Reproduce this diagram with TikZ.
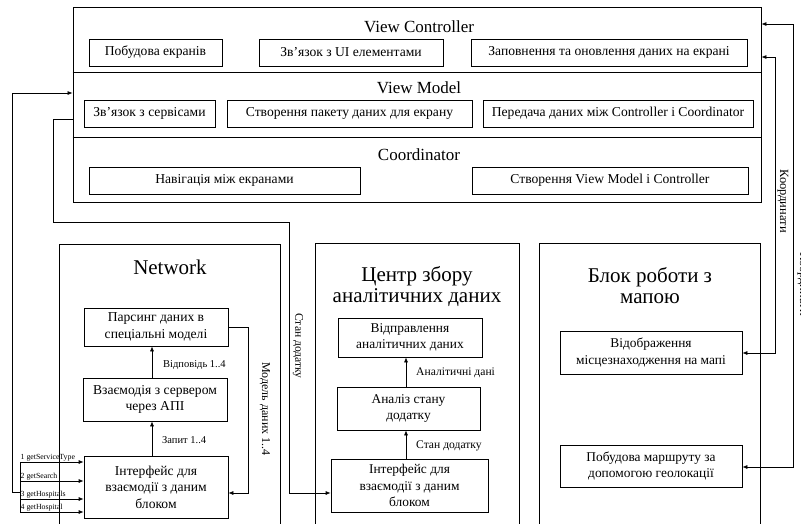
\documentclass[tikz,border=0pt]{standalone}
\usepackage{fontspec}
\setmainfont{Liberation Serif}
\usetikzlibrary{arrows.meta}
\begin{document}
\begin{tikzpicture}[x=1pt,y=-1pt,
  box/.style={draw, line width=0.7pt, inner sep=0pt, align=center, font=\fontsize{13.6}{16.5}\selectfont},
  sbox/.style={draw, line width=0.7pt, inner sep=0pt, align=center, font=\fontsize{13.4}{16.5}\selectfont},
  frame/.style={draw, line width=0.8pt, inner sep=0pt},
  ttl/.style={inner sep=0pt, font=\fontsize{17}{20}\selectfont},
  bigttl/.style={inner sep=0pt, align=center, font=\fontsize{21}{21}\selectfont},
  lbl/.style={inner sep=0pt, font=\fontsize{10.5}{12}\selectfont},
  albl/.style={inner sep=0pt, font=\fontsize{11.6}{13}\selectfont},
  tinylbl/.style={inner sep=0.5pt, anchor=south west, font=\fontsize{7.8}{9}\selectfont},
  conn/.style={line width=0.7pt},
  arr/.style={-{Latex[length=5pt,width=4pt]}, line width=0.7pt},
  dbl/.style={{Latex[length=5pt,width=4pt]}-{Latex[length=5pt,width=4pt]}, line width=0.7pt}]
\useasboundingbox (0,0) rectangle (801,523);

% ---- main frame ----
\node[frame, minimum width=688pt, minimum height=195pt] (main) at (417,104.5) {};
\coordinate (d1) at (0,72);
\coordinate (d2) at (0,137);
\draw[conn] (main.west |- d1) -- (main.east |- d1);
\draw[conn] (main.west |- d2) -- (main.east |- d2);

\node[ttl] (tvc) at (419,27) {View Controller};
\node[ttl] (tvm) at (419,88) {View Model};
\node[ttl] (tco) at (419,155) {Coordinator};

\node[box, minimum width=133pt, minimum height=27pt] (v1) at (155.5,52.5) {Побудова екранів};
\node[box, minimum width=184pt, minimum height=27pt] (v2) at (351,52.5) {Зв’язок з UI елементами};
\node[box, minimum width=276pt, minimum height=27pt] (v3) at (609,52.5) {Заповнення та оновлення даних на екрані};

\node[box, minimum width=131pt, minimum height=27pt] (m1) at (149.5,113.5) {Зв’язок з сервісами};
\node[box, minimum width=245pt, minimum height=27pt] (m2) at (349.5,113.5) {Створення пакету даних для екрану};
\node[box, minimum width=270pt, minimum height=27pt] (m3) at (618,113.5) {Передача даних між Controller і Coordinator};

\node[box, minimum width=271pt, minimum height=27pt] (c1) at (224.5,180.5) {Навігація між екранами};
\node[box, minimum width=276pt, minimum height=27pt] (c2) at (610,180.5) {Створення View Model і Controller};

% ---- Network ----
\node[frame, minimum width=221pt, minimum height=296pt] (net) at (169.5,392) {};
\node[bigttl] (tnet) at (170,267) {Network};
\node[box, minimum width=144pt, minimum height=38pt] (n1) at (156,327) {Парсинг даних в\\спеціальні моделі};
\node[box, minimum width=144pt, minimum height=43pt] (n2) at (155,399.5) {Взаємодія з сервером\\через АПІ};
\node[box, minimum width=144pt, minimum height=62pt] (n3) at (156,487) {Інтерфейс для\\взаємодії з даним\\блоком};
\draw[arr] ([xshift=-4pt]n3.north) -- ([xshift=-3pt]n2.south);
\draw[arr] ([xshift=-3pt]n2.north) -- ([xshift=-4pt]n1.south);
\node[lbl, anchor=west] (lq) at (162,440) {Запит 1..4};
\node[lbl, anchor=west] (lr) at (163,365) {Відповідь 1..4};
\coordinate (mx) at (248,0);
\coordinate (my) at (0,493);
\draw[arr] (n1.east) -- (n1.east -| mx) -- (mx |- my) -- (n3.east |- my);
\node[albl, rotate=-90, font=\fontsize{12}{13}\selectfont] (lmod) at (265,409) {Модель даних 1..4};

% get* inputs
\coordinate (g1) at (20,462);
\coordinate (g2) at (20,481);
\coordinate (g3) at (20,499);
\coordinate (g4) at (20,512);
\draw[conn] (g1) -- (g4);
\draw[arr] (g1) -- (g1 -| n3.west);
\draw[arr] (g2) -- (g2 -| n3.west);
\draw[arr] (g3) -- (g3 -| n3.west);
\draw[arr] (g4) -- (g4 -| n3.west);
\node[tinylbl] (t1) at (g1) {1 getServiceType};
\node[tinylbl] (t2) at (g2) {2 getSearch};
\node[tinylbl] (t3) at (g3) {3 getHospitals};
\node[tinylbl] (t4) at (g4) {4 getHospital};

% left connectors to main
\coordinate (j1) at (20,492);
\coordinate (k1) at (12,492);
\coordinate (k2) at (12,93);
\draw[arr] (j1) -- (k1) -- (k2) -- (main.west |- k2);

% ---- Analytics ----
\node[frame, minimum width=204pt, minimum height=296pt] (an) at (417,391) {};
\node[bigttl] (tan) at (417,287) {Центр збору\\аналітичних даних};
\node[sbox, minimum width=144pt, minimum height=39pt] (a1) at (410,337.5) {Відправлення\\аналітичних даних};
\node[sbox, minimum width=143pt, minimum height=43pt] (a2) at (408.5,408.5) {Аналіз стану\\додатку};
\node[sbox, minimum width=157pt, minimum height=53pt] (a3) at (409.5,485.5) {Інтерфейс для\\взаємодії з даним\\блоком};
\coordinate (ax) at (406,0);
\draw[arr] (a3.north -| ax) -- (a2.south -| ax);
\draw[arr] (a2.north -| ax) -- (a1.south -| ax);
\node[albl, anchor=west] (la1) at (416,373) {Аналітичні дані};
\node[albl, anchor=west] (la2) at (416,446) {Стан додатку};

% connector from main (View Model) to analytics interface
\coordinate (s0) at (0,119);
\coordinate (s1) at (53,119);
\coordinate (s2) at (53,222);
\coordinate (s3) at (289,222);
\coordinate (s4) at (289,493);
\draw[arr] (main.west |- s0) -- (s1) -- (s2) -- (s3) -- (s4) -- (a3.west |- s4);
\node[albl, rotate=-90] (lst) at (298,346) {Стан додатку};

% ---- Map ----
\node[frame, minimum width=221pt, minimum height=296pt] (mp) at (649.5,391) {};
\node[bigttl] (tmp) at (650,286) {Блок роботи з\\мапою};
\node[sbox, minimum width=182pt, minimum height=43pt] (p1) at (651,352.5) {Відображення\\місцезнаходження на мапі};
\node[sbox, minimum width=182pt, minimum height=42pt] (p2) at (651,466) {Побудова маршруту за\\допомогою геолокації};

\coordinate (r1a) at (775,57);
\coordinate (r1b) at (775,353);
\draw[dbl] (main.east |- r1a) -- (r1a) -- (r1b) -- (p1.east |- r1b);
\coordinate (r2a) at (793,24);
\coordinate (r2b) at (793,467);
\draw[dbl] (main.east |- r2a) -- (r2a) -- (r2b) -- (p2.east |- r2b);
\node[albl, rotate=-90, font=\fontsize{12.5}{13}\selectfont] (lk1) at (783,201) {Координати};
\node[albl, rotate=-90, font=\fontsize{12.5}{13}\selectfont] (lk2) at (803,284) {Координати};
\end{tikzpicture}
\end{document}
